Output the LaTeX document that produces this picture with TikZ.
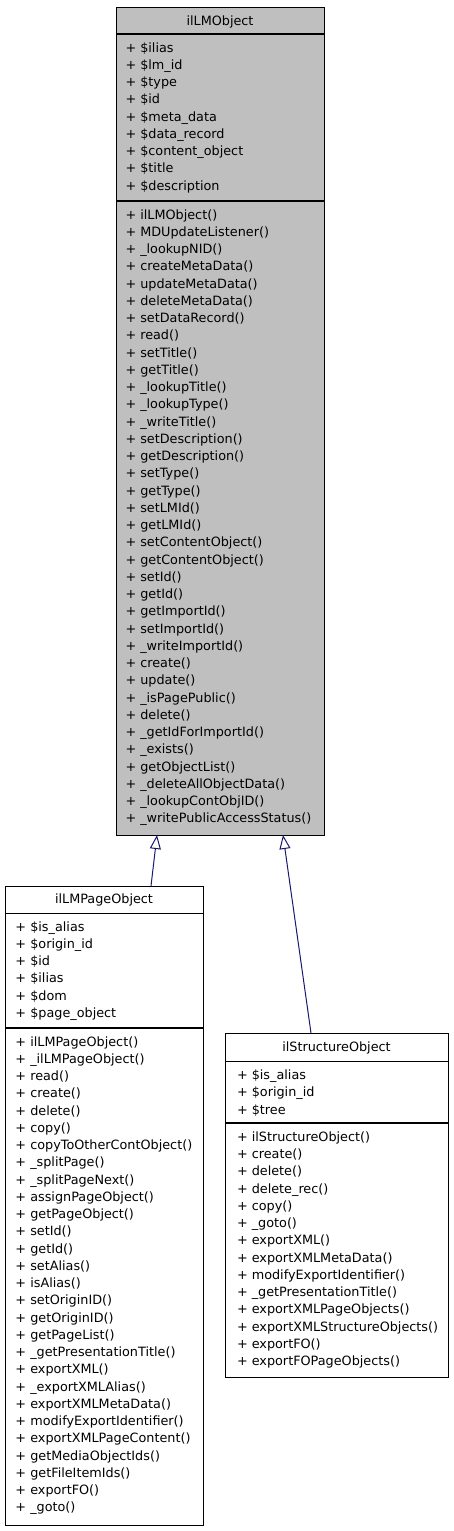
\documentclass[tikz,border=0pt]{standalone}
\usepackage{fontspec}
\setmainfont{DejaVu Sans}
\usetikzlibrary{arrows.meta}
\definecolor{boxgray}{HTML}{BFBFBF}
\definecolor{edgeblue}{HTML}{191970}
\tikzset{
  classbox/.style={draw=black, line width=1pt, inner sep=0pt, outer sep=0pt},
  sepline/.style={draw=black, line width=1.6pt},
  member/.style={inner sep=0pt, outer sep=0pt, anchor=base west, font=\fontsize{12.8}{14}\selectfont},
  ctitle/.style={inner sep=0pt, outer sep=0pt, anchor=base, font=\fontsize{12.8}{14}\selectfont},
  inherit/.style={draw=edgeblue, line width=1pt, -{Triangle[open, length=14pt, width=11pt, line width=1pt]}},
}
\begin{document}
\begin{tikzpicture}[x=1pt,y=-1pt]
\useasboundingbox (0,0) rectangle (453,1531);

% ---------- ilLMObject ----------
\node[classbox, fill=boxgray, minimum width=208pt, minimum height=828pt] (lm) at (220,421) {};
\draw[sepline] (116,34) -- (324,34);
\draw[sepline] (116,201) -- (324,201);
\node[ctitle] (lmt) at (220,25) {ilLMObject};
\foreach [count=\i] \t in {\$ilias,\$lm\_id,\$type,\$id,\$meta\_data,\$data\_record,\$content\_object,\$title,\$description}
  \node[member] (lma\i) at (125.5,{52+17.25*(\i-1)}) {+ \t};
\foreach [count=\i] \t in {ilLMObject(),MDUpdateListener(),\_lookupNID(),createMetaData(),updateMetaData(),deleteMetaData(),setDataRecord(),read(),setTitle(),getTitle(),\_lookupTitle(),\_lookupType(),\_writeTitle(),setDescription(),getDescription(),setType(),getType(),setLMId(),getLMId(),setContentObject(),getContentObject(),setId(),getId(),getImportId(),setImportId(),\_writeImportId(),create(),update(),\_isPagePublic(),delete(),\_getIdForImportId(),\_exists(),getObjectList(),\_deleteAllObjectData(),\_lookupContObjID(),\_writePublicAccessStatus()}
  \node[member] (lmm\i) at (125.5,{219+17.25*(\i-1)}) {+ \t};

% ---------- ilLMPageObject ----------
\node[classbox, fill=white, minimum width=198pt, minimum height=639pt] (po) at (104,1205.5) {};
\draw[sepline] (5,913.5) -- (203,913.5);
\draw[sepline] (5,1028) -- (203,1028);
\node[ctitle] (pot) at (104,903.5) {ilLMPageObject};
\foreach [count=\i] \t in {\$is\_alias,\$origin\_id,\$id,\$ilias,\$dom,\$page\_object}
  \node[member] (poa\i) at (15.5,{931+17.25*(\i-1)}) {+ \t};
\foreach [count=\i] \t in {ilLMPageObject(),\_ilLMPageObject(),read(),create(),delete(),copy(),copyToOtherContObject(),\_splitPage(),\_splitPageNext(),assignPageObject(),getPageObject(),setId(),getId(),setAlias(),isAlias(),setOriginID(),getOriginID(),getPageList(),\_getPresentationTitle(),exportXML(),\_exportXMLAlias(),exportXMLMetaData(),modifyExportIdentifier(),exportXMLPageContent(),getMediaObjectIds(),getFileItemIds(),exportFO(),\_goto()}
  \node[member] (pom\i) at (15.5,{1046+17.25*(\i-1)}) {+ \t};

% ---------- ilStructureObject ----------
\node[classbox, fill=white, minimum width=223pt, minimum height=344pt] (so) at (336.5,1205.3) {};
\draw[sepline] (225,1061.5) -- (448,1061.5);
\draw[sepline] (225,1123) -- (448,1123);
\node[ctitle] (sot) at (336.5,1051.7) {ilStructureObject};
\foreach [count=\i] \t in {\$is\_alias,\$origin\_id,\$tree}
  \node[member] (soa\i) at (237,{1079.7+17.25*(\i-1)}) {+ \t};
\foreach [count=\i] \t in {ilStructureObject(),create(),delete(),delete\_rec(),copy(),\_goto(),exportXML(),exportXMLMetaData(),modifyExportIdentifier(),\_getPresentationTitle(),exportXMLPageObjects(),exportXMLStructureObjects(),exportFO(),exportFOPageObjects()}
  \node[member] (som\i) at (237,{1141.3+17.25*(\i-1)}) {+ \t};

% ---------- inheritance ----------
\coordinate (poTop) at (151,886);
\coordinate (lmA) at (157,835);
\coordinate (soTop) at (311,1033);
\coordinate (lmB) at (283,835);
\draw[inherit] (poTop) -- (lmA);
\draw[inherit] (soTop) -- (lmB);
\end{tikzpicture}
\end{document}
